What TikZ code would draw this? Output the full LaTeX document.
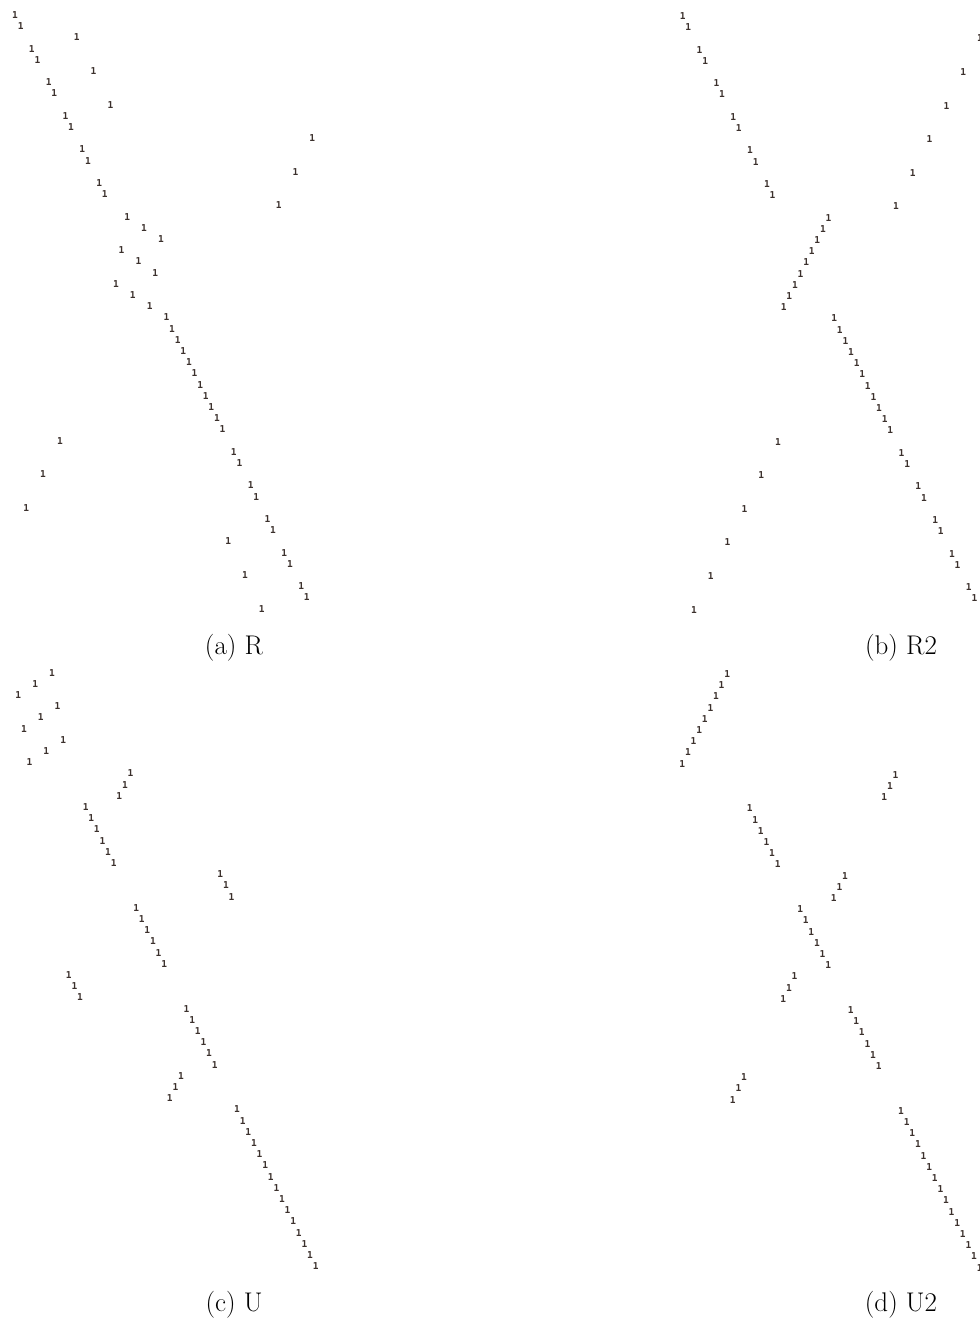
\documentclass[tikz,border=0pt]{standalone}
\usepackage{fontspec}
\newfontfamily\onefont{DejaVu Sans Mono}
\definecolor{onecol}{HTML}{3B302C}
\tikzset{
  onedigit/.style={inner sep=0pt, text=onecol, font=\onefont\bfseries\fontsize{9.5}{9.5}\selectfont},
  captext/.style={inner sep=0pt, font=\rmfamily\fontsize{27}{31}\selectfont}
}
\setmainfont{Latin Modern Roman}
\begin{document}
\begin{tikzpicture}[x=1pt,y=-1pt]
\useasboundingbox (0,0) rectangle (979,1324);
% (a) R
\foreach \c [count=\r from 0] in {0,1,11,3,4,14,6,7,17,9,10,53,12,13,50,15,16,47,20,23,26,19,22,25,18,21,24,27,28,29,30,31,32,33,34,35,36,37,8,39,40,5,42,43,2,45,46,38,48,49,41,51,52,44}
  \node[onedigit] (a\r) at ({15+5.61*\c},{15+11.2*\r}) {1};
% (b) R2
\foreach \c [count=\r from 0] in {0,1,53,3,4,50,6,7,47,9,10,44,12,13,41,15,16,38,26,25,24,23,22,21,20,19,18,27,28,29,30,31,32,33,34,35,36,37,17,39,40,14,42,43,11,45,46,8,48,49,5,51,52,2}
  \node[onedigit] (b\r) at ({682.7+5.61*\c},{16+11.2*\r}) {1};
% (c) U
\foreach \c [count=\r from 0] in {6,3,0,7,4,1,8,5,2,20,19,18,12,13,14,15,16,17,36,37,38,21,22,23,24,25,26,9,10,11,30,31,32,33,34,35,29,28,27,39,40,41,42,43,44,45,46,47,48,49,50,51,52,53}
  \node[onedigit] (c\r) at ({18.3+5.61*\c},{672.7+11.2*\r}) {1};
% (d) U2
\foreach \c [count=\r from 0] in {8,7,6,5,4,3,2,1,0,38,37,36,12,13,14,15,16,17,29,28,27,21,22,23,24,25,26,20,19,18,30,31,32,33,34,35,11,10,9,39,40,41,42,43,44,45,46,47,48,49,50,51,52,53}
  \node[onedigit] (d\r) at ({682.3+5.61*\c},{674+11.2*\r}) {1};
% captions
\node[captext] (capa) at (234,648) {(a) R};
\node[captext] (capb) at (901,648) {(b) R2};
\node[captext] (capc) at (234,1305) {(c) U};
\node[captext] (capd) at (901,1305) {(d) U2};
\end{tikzpicture}
\end{document}
